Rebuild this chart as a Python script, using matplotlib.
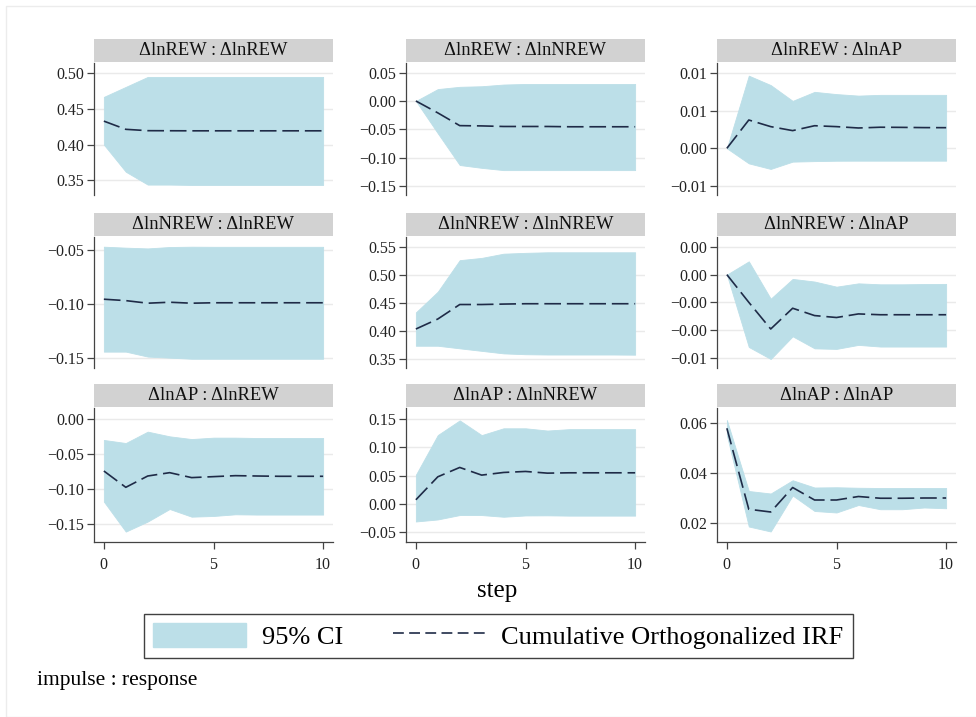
import numpy as np
import matplotlib
matplotlib.use("Agg")
import matplotlib.pyplot as plt
from matplotlib.patches import Rectangle, Patch
from matplotlib.lines import Line2D
from matplotlib.ticker import FixedLocator, FuncFormatter

plt.rcParams['font.family'] = ['Liberation Serif', 'DejaVu Serif']

# --- data ---
steps = list(range(11))
names = ["REW", "NREW", "AP"]

irf_rew_rew = [0.433, 0.4215, 0.4196, 0.4195, 0.4194, 0.4194, 0.4194, 0.4194, 0.4194, 0.4194, 0.4194]
hi_rew_rew = [0.467, 0.481, 0.495, 0.495, 0.495, 0.495, 0.495, 0.495, 0.495, 0.495, 0.495]
lo_rew_rew = [0.400, 0.362, 0.344, 0.344, 0.3435, 0.3435, 0.3435, 0.3435, 0.3435, 0.3435, 0.3435]

irf_rew_nrew = [0.0, -0.021, -0.0435, -0.044, -0.045, -0.045, -0.045, -0.0455, -0.0455, -0.0455, -0.0455]
hi_rew_nrew = [0.0, 0.021, 0.025, 0.026, 0.029, 0.030, 0.030, 0.030, 0.030, 0.030, 0.030]
lo_rew_nrew = [0.0, -0.057, -0.113, -0.118, -0.122, -0.122, -0.122, -0.122, -0.122, -0.122, -0.122]

irf_rew_ap = [0.0, 0.00376, 0.00288, 0.00235, 0.0030, 0.00288, 0.0027, 0.0028, 0.00278, 0.00275, 0.00274]
hi_rew_ap = [0.0, 0.00965, 0.0084, 0.0063, 0.0075, 0.0072, 0.0070, 0.0071, 0.0071, 0.0071, 0.0071]
lo_rew_ap = [0.0, -0.0020, -0.00274, -0.00177, -0.0017, -0.00165, -0.00164, -0.00164, -0.00164, -0.00164, -0.00164]

irf_nrew_rew = [-0.0957, -0.097, -0.0994, -0.0985, -0.0994, -0.099, -0.099, -0.099, -0.099, -0.099, -0.099]
hi_nrew_rew = [-0.0469, -0.0478, -0.0485, -0.0472, -0.0469, -0.047, -0.047, -0.047, -0.047, -0.047, -0.047]
lo_nrew_rew = [-0.1444, -0.1444, -0.149, -0.150, -0.151, -0.151, -0.151, -0.151, -0.151, -0.151, -0.151]

irf_nrew_nrew = [0.4034, 0.4212, 0.447, 0.447, 0.4478, 0.4484, 0.4484, 0.4484, 0.4484, 0.4484, 0.4484]
hi_nrew_nrew = [0.433, 0.4699, 0.526, 0.530, 0.5375, 0.539, 0.540, 0.540, 0.540, 0.540, 0.540]
lo_nrew_nrew = [0.3736, 0.3736, 0.369, 0.3645, 0.360, 0.3585, 0.358, 0.358, 0.358, 0.358, 0.3577]

irf_nrew_ap = [0.0, -0.0020, -0.00393, -0.00243, -0.00296, -0.0031, -0.00284, -0.0029, -0.0029, -0.0029, -0.0029]
hi_nrew_ap = [0.0, 0.00096, -0.00174, -0.00031, -0.0005, -0.00087, -0.00063, -0.0007, -0.0007, -0.00068, -0.00067]
lo_nrew_ap = [0.0, -0.00523, -0.0061, -0.00446, -0.00533, -0.00537, -0.00508, -0.0052, -0.0052, -0.0052, -0.0052]

irf_ap_rew = [-0.0745, -0.0979, -0.0817, -0.0769, -0.0840, -0.0826, -0.0812, -0.0817, -0.0821, -0.0821, -0.0821]
hi_ap_rew = [-0.030, -0.0344, -0.0181, -0.0248, -0.0287, -0.0267, -0.0267, -0.0272, -0.0272, -0.0272, -0.0272]
lo_ap_rew = [-0.1184, -0.1614, -0.147, -0.129, -0.140, -0.139, -0.1366, -0.137, -0.137, -0.137, -0.137]

irf_ap_nrew = [0.0071, 0.0479, 0.0645, 0.0509, 0.0556, 0.0574, 0.0544, 0.055, 0.055, 0.055, 0.055]
hi_ap_nrew = [0.0515, 0.122, 0.148, 0.1219, 0.134, 0.134, 0.130, 0.1325, 0.1325, 0.1325, 0.1325]
lo_ap_nrew = [-0.0314, -0.0278, -0.020, -0.020, -0.023, -0.0207, -0.0205, -0.021, -0.021, -0.021, -0.021]

irf_ap_ap = [0.058, 0.0256, 0.0245, 0.0343, 0.0293, 0.0293, 0.0307, 0.030, 0.030, 0.0301, 0.0301]
hi_ap_ap = [0.0613, 0.0329, 0.0319, 0.0372, 0.0343, 0.0344, 0.0342, 0.0341, 0.0341, 0.0341, 0.0341]
lo_ap_ap = [0.0553, 0.0187, 0.0167, 0.0311, 0.0249, 0.0243, 0.0273, 0.0256, 0.0256, 0.0263, 0.026]

# rows = impulse, columns = response
irf = [[irf_rew_rew, irf_rew_nrew, irf_rew_ap],
       [irf_nrew_rew, irf_nrew_nrew, irf_nrew_ap],
       [irf_ap_rew, irf_ap_nrew, irf_ap_ap]]
hi = [[hi_rew_rew, hi_rew_nrew, hi_rew_ap],
      [hi_nrew_rew, hi_nrew_nrew, hi_nrew_ap],
      [hi_ap_rew, hi_ap_nrew, hi_ap_ap]]
lo = [[lo_rew_rew, lo_rew_nrew, lo_rew_ap],
      [lo_nrew_rew, lo_nrew_nrew, lo_nrew_ap],
      [lo_ap_rew, lo_ap_nrew, lo_ap_ap]]

# y ticks (Stata shows them with 2 decimals, hence the repeated labels)
yticks = [[[0.35, 0.40, 0.45, 0.50], [-0.15, -0.10, -0.05, 0.0, 0.05], [-0.005, 0.0, 0.005, 0.01]],
          [[-0.15, -0.10, -0.05], [0.35, 0.40, 0.45, 0.50, 0.55], [-0.006, -0.004, -0.002, 0.0, 0.002]],
          [[-0.15, -0.10, -0.05, 0.0], [-0.05, 0.0, 0.05, 0.10, 0.15], [0.02, 0.04, 0.06]]]
ylims = [[(0.3294, 0.5145), (-0.1659, 0.067), (-0.0062, 0.01133)],
         [(-0.1596, -0.0379), (0.334, 0.5672), (-0.00675, 0.00272)],
         [(-0.1763, 0.0158), (-0.0678, 0.170), (0.0125, 0.0661)]]
xticks = [0, 5, 10]

FILL = "#bcdfe8"
LINE = "#1f2b47"
BAR = "#d2d2d2"

W, H = 976, 717
fig = plt.figure(figsize=(W / 100, H / 100), dpi=100)

col_left = [94, 406, 717]
ax_w = 239
rows_px = [(63, 195), (237, 368), (408, 542)]
bar_h = 23


def fmt(v, pos):
    s = f"{v:.2f}"
    return s.replace("-", "\u2212")


for i in range(3):
    for j in range(3):
        top, bot = rows_px[i]
        ax = fig.add_axes([col_left[j] / W, 1 - bot / H, ax_w / W, (bot - top) / H])
        ax.fill_between(steps, lo[i][j], hi[i][j], color=FILL, lw=0.6, zorder=2)
        ax.plot(steps, irf[i][j], color=LINE, lw=1.2, dashes=(10, 3.5), zorder=3)
        ax.set_xlim(-0.45, 10.45)
        ax.set_ylim(*ylims[i][j])
        ax.yaxis.set_major_locator(FixedLocator(yticks[i][j]))
        ax.yaxis.set_major_formatter(FuncFormatter(fmt))
        ax.grid(axis="y", color="#eaeaea", lw=1.0, zorder=0)
        for sp in ["top", "right"]:
            ax.spines[sp].set_visible(False)
        ax.spines["left"].set_color("#444444")
        ax.spines["left"].set_linewidth(0.9)
        ax.tick_params(axis="y", length=5, width=0.9, color="#444444", pad=2,
                       labelsize=11.5, labelcolor="#222222")
        if i == 2:
            ax.spines["bottom"].set_color("#444444")
            ax.spines["bottom"].set_linewidth(0.9)
            ax.set_xticks(xticks)
            ax.tick_params(axis="x", length=5, width=0.9, color="#444444", pad=6,
                           labelsize=11.5, labelcolor="#222222")
        else:
            ax.spines["bottom"].set_visible(False)
            ax.set_xticks([])
        # title strip
        h = bot - top
        ax.add_patch(Rectangle((0, 1 + 1 / h), 1, bar_h / h, transform=ax.transAxes,
                               facecolor=BAR, edgecolor="none", clip_on=False))
        ax.text(0.5, 1 + (1 + bar_h / 2) / h, f"\u0394ln{names[i]} : \u0394ln{names[j]}",
                transform=ax.transAxes, ha="center", va="center", fontsize=13.3,
                color="#111111")

fig.text(497 / W, 1 - 591 / H, "step", ha="center", va="center", fontsize=18)

handles = [Patch(facecolor=FILL, edgecolor=FILL),
           Line2D([], [], color=LINE, lw=1.2, dashes=(6.5, 3.2))]
leg = fig.legend(handles, ["95% CI", "Cumulative Orthogonalized IRF"],
                 loc="center", bbox_to_anchor=(498.5 / W, 1 - 636 / H), ncol=2,
                 fontsize=19, frameon=True, fancybox=False, edgecolor="#111111",
                 handlelength=3.5, handleheight=1.05, columnspacing=1.9,
                 borderpad=0.35, handletextpad=0.6)
leg.get_frame().set_linewidth(1.0)

fig.text(37 / W, 1 - 680 / H, "impulse : response", ha="left", va="center", fontsize=15.5)

# faint outer frame like the Stata export
fig.add_artist(Rectangle((6 / W, 0), 1, 1 - 6 / H, transform=fig.transFigure,
                         facecolor="none", edgecolor="#ececec", lw=1.0))

fig.savefig("out.png", dpi=100)
